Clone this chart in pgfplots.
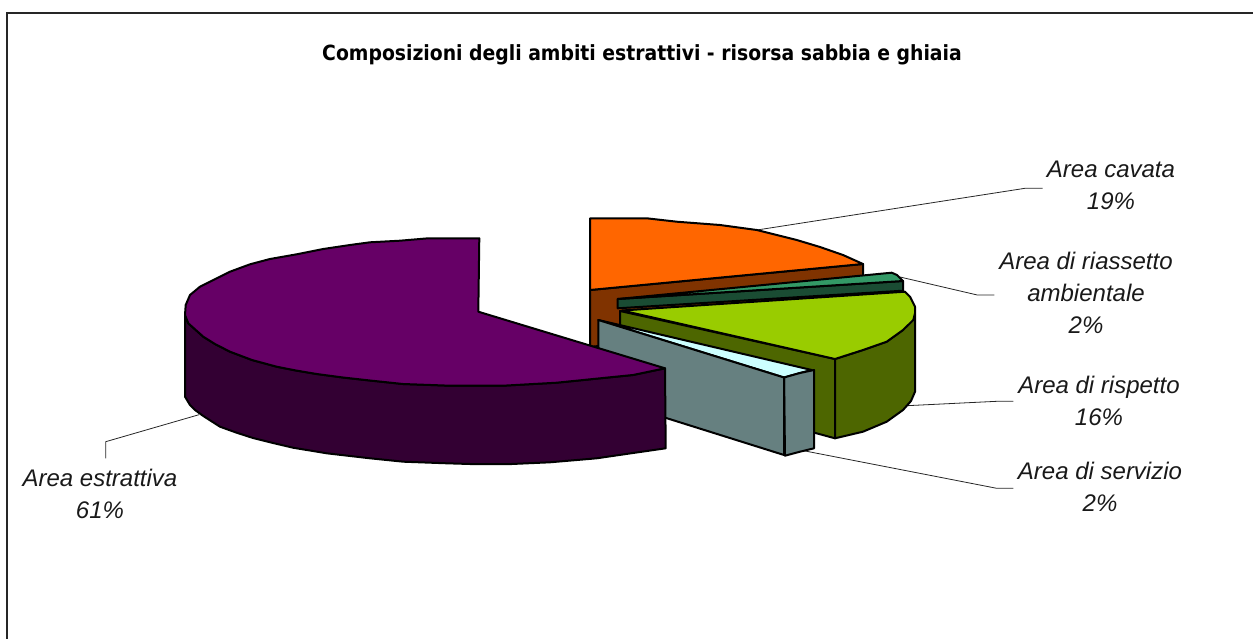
\documentclass[border=0pt]{standalone}
\usepackage{fontspec}
\setmainfont{Liberation Sans}
\newfontfamily\titlefont{DejaVu Sans Condensed}
\usepackage{pgfplots}
\pgfplotsset{compat=1.18}
\definecolor{cpurple}{HTML}{660066}
\definecolor{cpurpled}{HTML}{330033}
\definecolor{corange}{HTML}{FF6600}
\definecolor{cbrown}{HTML}{803300}
\definecolor{csea}{HTML}{339966}
\definecolor{cdgreen}{HTML}{1A4C33}
\definecolor{clime}{HTML}{99CC00}
\definecolor{colive}{HTML}{4D6600}
\definecolor{ccyan}{HTML}{CCFFFF}
\definecolor{cteal}{HTML}{668080}
\tikzset{lab/.style={align=center,text=black!90,font=\fontsize{24}{32}\selectfont\itshape}}
\pgfplotsset{slice/.style={draw=black,line width=2pt,line join=round,no markers},
leader/.style={draw=black!85,line width=0.8pt,no markers}}
\begin{document}
\begin{tikzpicture}[x=1pt,y=1pt]
\path[use as bounding box] (0,0) rectangle (1253,639);
\begin{axis}[at={(0,0)},anchor=south west,scale only axis,width=1253pt,height=639pt,
 hide axis,xmin=0,xmax=1253,ymin=0,ymax=639,y dir=reverse,clip=false]
% frame
\addplot[draw=black!85,line width=1.5pt,no markers] coordinates {(7,639)(7,13)(1253,13)};
% leaders
\addplot[leader] coordinates {(757,230)(1025,188.3)(1042.7,188.3)};
\addplot[leader] coordinates {(900,277)(977.3,295)(994.3,295)};
\addplot[leader] coordinates {(906.7,405.7)(997,401.3)(1013.3,401.3)};
\addplot[leader] coordinates {(800,450)(996.7,488.3)(1013.3,488.3)};
\addplot[leader] coordinates {(199,414.7)(105.7,441.7)(105.7,458.3)};
% area cavata
\addplot[slice,fill=cbrown] coordinates {(590,290)(863,264)(863,300)(650,340)(590,347)} -- cycle;
\addplot[slice,fill=corange] coordinates {(590,218.3)(646.7,218.3)(676.7,221.7)(720,225)(756.7,230)(796.7,240)(820,247)(843,255)(863,264)(590,290)} -- cycle;
% area di riassetto
\addplot[slice,fill=cdgreen] coordinates {(617.7,299)(903,281)(903,290.7)(617.7,308.3)} -- cycle;
\addplot[slice,fill=csea] coordinates {(617.7,299)(891.7,272.7)(897,275)(903,281)} -- cycle;
% area di rispetto
\addplot[slice,fill=colive] coordinates {(620,311)(835,359)(835,438.3)(620,380)} -- cycle;
\addplot[slice,fill=colive] coordinates {(835,359)(863,350)(886.7,341.7)(903,330)(915,313.3)(915,391.7)(911,401)(903,410)(886.7,421.7)(863,431.7)(835,438.3)} -- cycle;
\addplot[slice,fill=clime] coordinates {(622,310.5)(905,291.7)(910,296.7)(915,306.7)(915,313.3)(913.3,320)(903,330)(886.7,341.7)(863,350)(835,359)} -- cycle;
% area di servizio
\addplot[slice,fill=ccyan] coordinates {(598.3,320)(811.7,370)(800,373)(784,377.5)} -- cycle;
\addplot[slice,fill=cteal] coordinates {(784,377.5)(800,373)(814,370)(814,448.3)(800,451.7)(785,455.7)} -- cycle;
\addplot[slice,fill=cteal] coordinates {(598.3,320)(784,377.5)(784,455)(598.3,396.7)} -- cycle;
% area estrattiva
\addplot[slice,fill=cpurpled] coordinates {(185,315)(188.3,323.3)(203.3,336.7)(215,344)(230,351.7)(252,360)(276.7,366.7)(296,370.5)(316.7,374)(343,377.5)(370,380.5)(403,384)(450,385.7)(503,385.7)(556.7,382.7)(603,378)(633,375)(665,368.3)(665.7,448.3)(633,453)(596.7,458.3)(550,462.3)(511.7,464)(470,464)(446.7,463.3)(403.3,461.7)(370,458.3)(326.7,453.3)(293,447.7)(273,443)(253,438)(236,432.5)(220,426.7)(203.3,416)(195,410)(190,405)(185,396.7)} -- cycle;
\addplot[slice,fill=cpurple] coordinates {(479.3,238.3)(428.3,238.3)(400,240.7)(370,242.3)(350,245)(323.3,249)(296.7,254.3)(270,259)(250,264.3)(230,271.7)(213.3,280)(200,286.7)(190,295)(185.7,305)(185,315)(188.3,323.3)(203.3,336.7)(215,344)(230,351.7)(252,360)(276.7,366.7)(296,370.5)(316.7,374)(343,377.5)(370,380.5)(403,384)(450,385.7)(503,385.7)(556.7,382.7)(603,378)(633,375)(665,368.3)(478.3,311.7)} -- cycle;
% texts
\node[font=\titlefont\bfseries\fontsize{20.9}{24}\selectfont,text=black] at (axis cs:642,55) {Composizioni degli ambiti estrattivi - risorsa sabbia e ghiaia};
\node[lab] at (axis cs:1111,185.5) {Area cavata\\19\%};
\node[lab] at (axis cs:1086,293) {Area di riassetto\\ambientale\\2\%};
\node[lab] at (axis cs:1099,400.5) {Area di rispetto\\16\%};
\node[lab] at (axis cs:1100,486.5) {Area di servizio\\2\%};
\node[lab] at (axis cs:100,494) {Area estrattiva\\61\%};
\end{axis}
\end{tikzpicture}
\end{document}
